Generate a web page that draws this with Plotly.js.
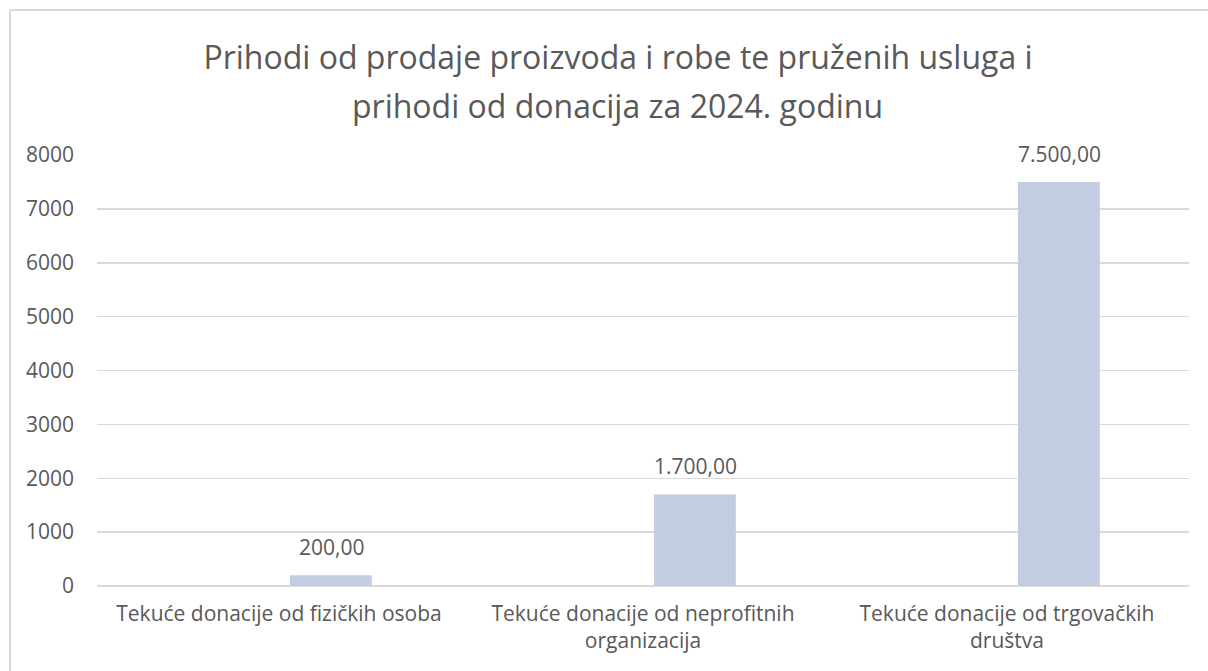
<!DOCTYPE html>
<html>
<head>
<meta charset="utf-8">
<script src="https://cdn.plot.ly/plotly-3.0.1.min.js"></script>
<style>
  html, body { margin: 0; padding: 0; background: #ffffff; overflow: hidden; }
  #plot { position: absolute; left: 0; top: 0; width: 1208px; height: 671px; }
  #frame { position: absolute; left: 9px; top: 9px; width: 1240px; height: 720px;
           border: 2px solid #d9d9d9; border-radius: 3px; pointer-events: none; box-sizing: border-box; }
</style>
</head>
<body>
<div id="plot"></div>
<div id="frame"></div>
<script>
// ---- data ----
const categories = [
  "Tekuće donacije od fizičkih osoba",
  "Tekuće donacije od neprofitnih organizacija",
  "Tekuće donacije od trgovačkih društva"
];
const tickLabels = [
  "Tekuće donacije od fizičkih osoba",
  "Tekuće donacije od neprofitnih<br>organizacija",
  "Tekuće donacije od trgovačkih<br>društva"
];
const values = [200, 1700, 7500];
const titleLine1 = "Prihodi od prodaje proizvoda i robe te pruženih usluga i";
const titleLine2 = "prihodi od donacija za 2024. godinu";

// ---- helpers ----
function fmt(v) {
  const parts = v.toFixed(2).split(".");
  const intPart = parts[0].replace(/\B(?=(\d{3})+(?!\d))/g, ".");
  return intPart + "," + parts[1];
}

const FONT = "'Open Sans', 'DejaVu Sans', sans-serif";
const TXT = "#595959";
const BAR_W = 0.225;
const BAR_OFF = 0.03;

const trace = {
  type: "bar",
  x: categories,
  y: values,
  width: BAR_W,
  offset: BAR_OFF,
  marker: { color: "#c3cde1" },
  hoverinfo: "x+y",
  showlegend: false
};

const annotations = categories.map((c, i) => ({
  x: c, y: values[i], xref: "x", yref: "y",
  text: fmt(values[i]),
  showarrow: false,
  xanchor: "center", yanchor: "bottom",
  xshift: 52, yshift: 12,
  font: { family: FONT, size: 21, color: TXT }
}));
annotations.push({
  x: 0.477, y: 1.116, xref: "paper", yref: "paper",
  text: titleLine2, showarrow: false,
  xanchor: "center", yanchor: "middle",
  font: { family: FONT, size: 32, color: TXT }
});

const layout = {
  width: 1208, height: 671,
  margin: { l: 97, r: 19, t: 155, b: 85 },
  paper_bgcolor: "rgba(0,0,0,0)",
  plot_bgcolor: "rgba(0,0,0,0)",
  title: {
    text: titleLine1,
    xref: "container", yref: "container",
    x: 618 / 1208, xanchor: "center",
    y: 1 - 58 / 671, yanchor: "middle",
    font: { family: FONT, size: 32, color: TXT }
  },
  xaxis: {
    type: "category",
    tickvals: categories,
    ticktext: tickLabels,
    showgrid: false,
    showline: false,
    zeroline: false,
    ticks: "",
    ticklabelstandoff: 13,
    tickfont: { family: FONT, size: 21, color: TXT },
    fixedrange: true
  },
  yaxis: {
    range: [0, 8000],
    dtick: 1000,
    tick0: 0,
    showgrid: true,
    gridcolor: "#d9d9d9",
    gridwidth: 1.5,
    zeroline: true,
    zerolinecolor: "#d9d9d9",
    zerolinewidth: 1.5,
    showline: false,
    ticks: "",
    ticklabelstandoff: 22,
    tickfont: { family: FONT, size: 21, color: TXT },
    fixedrange: true
  },
  annotations: annotations,
  font: { family: FONT, color: TXT }
};

Plotly.newPlot("plot", [trace], layout, { displayModeBar: false, staticPlot: true });
</script>
</body>
</html>
